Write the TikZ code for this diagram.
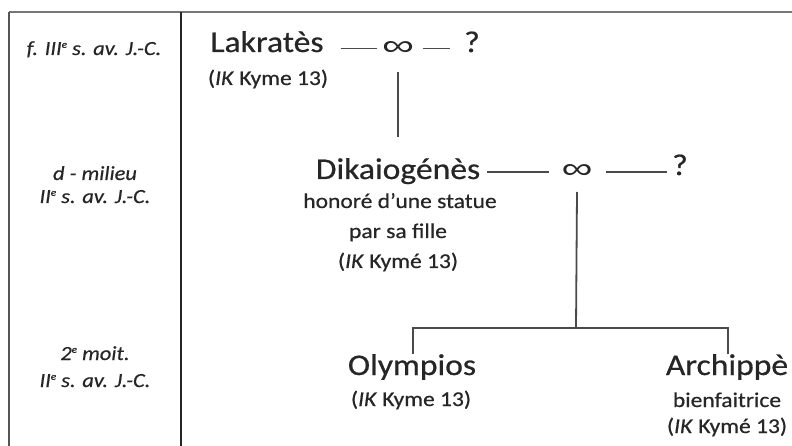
\documentclass[tikz,border=0pt]{standalone}
\usepackage{fontspec}
\setmainfont{Carlito}[FakeStretch=1.12,FakeBold=0.6]
\newfontfamily\inffont{Liberation Sans}
\newcommand\supe{\raisebox{0.75ex}{\fontsize{10}{10}\selectfont e}}
\definecolor{txt}{HTML}{262626}
\definecolor{lin}{HTML}{4A4A4A}
\definecolor{frm}{HTML}{555555}
\begin{document}
\begin{tikzpicture}[x=1pt,y=-1pt,
  persname/.style={font=\fontsize{30}{36}\selectfont, text=txt, inner sep=0pt, anchor=base},
  subtxt/.style={font=\fontsize{21}{30}\selectfont, text=txt, inner sep=0pt, anchor=base},
  era/.style={font=\fontsize{20}{24}\selectfont\itshape, text=txt, inner sep=0pt, anchor=base},
  infty/.style={font=\fontsize{30}{36}\inffont, text=txt, inner sep=0pt, anchor=center},
  link/.style={line width=1.8pt, draw=lin},
  frame/.style={line width=1.6pt, draw=frm}]
\useasboundingbox (0,0) rectangle (792,446);
% frame
\coordinate (tl) at (9,12);
\coordinate (tr) at (792,12);
\coordinate (bl) at (9,446);
\coordinate (dt) at (181,12);
\coordinate (db) at (181,446);
\draw[frame, line width=2.2pt, draw=frm!80] (tl) -- (tr);
\draw[frame] (tl) -- (bl);
\draw[frame, draw=black!85] (dt) -- (db);
% eras
\node[era] (e1) at (94,55) {f. III\supe{} s. av. J.-C.};
\node[era] (e2a) at (95,180) {d - milieu};
\node[era] (e2b) at (95,203) {II\supe{} s. av. J.-C.};
\node[era] (e3a) at (95,360) {2\supe{} moit.};
\node[era] (e3b) at (95,387) {II\supe{} s. av. J.-C.};
% generation 1
\node[persname] (lak) at (267,52) {Lakratès};
\node[subtxt] (lakr) at (268,85) {(\textit{IK} Kyme 13)};
\node[infty] (inf1) at (398,48.5) {\resizebox{32pt}{14pt}{∞}};
\node[persname] (q1) at (472,52) {?};
\draw[link] ([xshift=17pt]lak.east |- inf1.west) -- ([xshift=-5pt]inf1.west);
\draw[link] ([xshift=9pt]inf1.east) -- ([xshift=-14pt]q1.west |- inf1.east);
% generation 2
\node[persname] (dik) at (398,179) {Dikaiogénès};
\node[subtxt] (dik1) at (400,208) {honoré d’une statue};
\node[subtxt] (dik2) at (398,238) {par sa fille};
\node[subtxt] (dik3) at (398,268) {(\textit{IK} Kymé 13)};
\node[infty] (inf2) at (577,172) {\resizebox{31pt}{14pt}{∞}};
\node[persname] (q2) at (680,175) {?};
\draw[link] ([yshift=-24pt]inf1.center) -- ([yshift=-89pt]inf1.center);
\draw[link] ([xshift=7pt]dik.east |- inf2.west) -- ([xshift=-12pt]inf2.west);
\draw[link] ([xshift=13pt]inf2.east) -- ([xshift=-5pt]q2.west |- inf2.east);
% generation 3
\coordinate (jn) at (576,328);
\node[persname] (oly) at (412,375) {Olympios};
\node[subtxt] (olyr) at (411,406) {(\textit{IK} Kyme 13)};
\node[persname] (arc) at (727,375) {Archippè};
\node[subtxt] (arc1) at (727,407) {bienfaitrice};
\node[subtxt] (arc2) at (727,433) {(\textit{IK} Kymé 13)};
\draw[link] ([yshift=-20pt]inf2.center) -- (jn);
\draw[link] ([xshift=1pt]oly.north) -- ([xshift=1pt]oly.north |- jn) -- ([xshift=1pt]arc.north |- jn) -- ([xshift=1pt]arc.north);
\end{tikzpicture}
\end{document}
